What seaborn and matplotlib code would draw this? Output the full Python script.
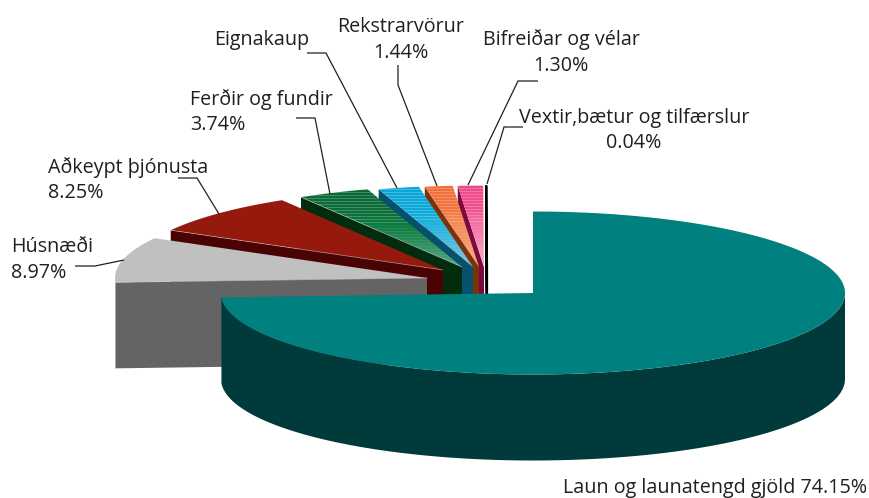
import numpy as np
import matplotlib
matplotlib.use("Agg")
import matplotlib.pyplot as plt
from matplotlib.colors import to_rgb
from matplotlib.patches import Polygon
import seaborn as sns

# ---- data -----
labels = ["Laun og launatengd gjöld", "Húsnæði", "Aðkeypt þjónusta", "Ferðir og fundir",
          "Eignakaup", "Rekstrarvörur", "Bifreiðar og vélar", "Vextir,bætur og tilfærslur"]
values = [74.15, 8.97, 8.25, 3.74, 2.11, 1.44, 1.30, 0.04]
value_labels = ["74.15%", "8.97%", "8.25%", "3.74%", "", "1.44%", "1.30%", "0.04%"]

# ---- layout / style (pixel frame of the picture) -----
W, H = 869, 498
RX, RY, DEPTH = 312, 81.5, 86
centres = [(533, 293), (427, 278), (443, 270), (462, 267), (473, 267), (479, 267), (484, 267), (487, 267)]
top_cols = ["#00807f", "#c0c0c0", "#951a0d", None, None, None, None, "#000000"]
side_cols = ["#003a3a", "#636463", "#4a0303", "#012c0d", "#07506e", "#7d3208", "#7a0a40", "#000000"]
gradients = {3: ["#0a6a36", "#0c6e39", "#0b7a3e", "#55ab83"],
             4: ["#0aa6d6", "#0daad9", "#1eb1dc", "#80cae0"],
             5: ["#f2703a", "#f3743e", "#f48a55", "#f7ad85"],
             6: ["#ee4a88", "#f0528f", "#f570a5", "#f9aacb"]}
leaders = {1: [(75, 266), (95, 266), (124, 260)],
           2: [(178, 178), (197, 178), (219, 214)],
           3: [(296, 118), (315, 118), (330, 194)],
           4: [(307, 53), (326, 53), (397, 188)],
           5: [(398, 65), (398, 85), (437, 186)],
           6: [(538, 81), (518, 81), (468, 185)],
           7: [(523, 127), (504, 127), (487, 184)]}
# (x, baseline of name, baseline of value, ha)
text_pos = {1: (11, 252, 278, "left"), 2: (48, 173, 198, "left"), 3: (190, 105, 130, "left"),
            4: (214, 45, None, "left"), 5: (401, 32, 58, "center"), 6: (561, 45, 71, "center"),
            7: (634, 123, 148, "center")}

sns.set_theme(style="white")
plt.rcParams["font.family"] = ["Open Sans", "DejaVu Sans"]
FS = 14.2
TEXT = "#231f20"

fig = plt.figure(figsize=(W / 100, H / 100), dpi=100)
ax = fig.add_axes([0, 0, 1, 1])
ax.set_xlim(0, W)
ax.set_ylim(H, 0)
ax.set_axis_off()


def arc(c, a0, a1, n=160):
    t = np.radians(np.linspace(a0, a1, n))
    return np.column_stack([c[0] + RX * np.cos(t), c[1] - RY * np.sin(t)])


# slice angles, clockwise from the top
frac = np.array(values) / sum(values) * 360
starts = 90 + 0 * frac
ends = 90 - np.cumsum(frac)        # clockwise end of each slice
begins = np.r_[90, ends[:-1]]

order = list(range(len(values)))[::-1]  # painted back to front
for z, i in enumerate(order):
    c = centres[i]
    zb = 2 + z * 3
    if i == 0:
        a_low, a_high = ends[0], begins[0]        # -177 .. 90
        rim = arc(c, -180 + (ends[0] + 180) * 0 + 183 - 360 + 0, 0) if False else arc(c, ends[0] + 360, 360)
        ax.add_patch(Polygon(np.vstack([rim, (rim + [0, DEPTH])[::-1]]), fc=side_cols[0], ec="none", zorder=zb))
        top = np.vstack([[c], arc(c, begins[0], ends[0], 400)])
    else:
        a_hi = begins[i] % 360
        a_lo = ends[i] % 360
        outer = arc(c, a_hi, a_hi, 1)[0]
        # cut face on the leading (left) edge, full height
        face = np.array([c, outer, outer + [0, DEPTH], np.array(c) + [0, DEPTH]])
        ax.add_patch(Polygon(face, fc=side_cols[i], ec=side_cols[i] if i == 7 else "none",
                             lw=1.6 if i == 7 else 0, zorder=zb))
        top = np.vstack([[c], arc(c, a_hi, a_lo, 60)])
    poly = Polygon(top, fc=top_cols[i] if top_cols[i] else "none", ec="none", zorder=zb + 1)
    ax.add_patch(poly)
    if i in gradients:
        y0, y1 = int(top[:, 1].min()) - 1, int(top[:, 1].max()) + 1
        x0, x1 = int(top[:, 0].min()) - 1, int(top[:, 0].max()) + 1
        rows = y1 - y0
        s = np.linspace(0, 1, rows)
        stops = np.array([to_rgb(k) for k in gradients[i]])
        pos = [0, 0.3, 0.45, 1]
        img = np.column_stack([np.interp(s, pos, stops[:, k]) for k in range(3)])
        # banding of the source gradient
        light = (np.arange(rows) % 3 == 1) * (0.22 * (s < 0.45) + 0.07 * (s >= 0.45))
        img = img + (1 - img) * light[:, None]
        im = ax.imshow(img[:, None, :], extent=(x0, x1, y1, y0), aspect="auto",
                       interpolation="nearest", zorder=zb + 1)
        im.set_clip_path(poly)
    if 1 <= i <= 3:  # pale seam where the top meets the cut face
        ax.plot(*np.array([c, arc(c, begins[i] % 360, begins[i] % 360, 1)[0]]).T,
                color="#d8c8c8", lw=0.5, alpha=0.7, zorder=zb + 1.5)

ax.set_xlim(0, W)
ax.set_ylim(H, 0)

for i, pts in leaders.items():
    ax.plot(*np.array(pts).T, color="#231f20", lw=0.9, zorder=60, solid_capstyle="butt", solid_joinstyle="miter")

for i, (x, y1, y2, ha) in text_pos.items():
    ax.text(x, y1, labels[i], ha=ha, va="baseline", fontsize=FS, color=TEXT, zorder=70)
    if y2 is not None:
        ax.text(x, y2, value_labels[i], ha=ha, va="baseline", fontsize=FS, color=TEXT, zorder=70)
ax.text(563, 493, f"{labels[0]} {value_labels[0]}", ha="left", va="baseline", fontsize=FS, color=TEXT, zorder=70)

fig.savefig("out.png", dpi=100)
